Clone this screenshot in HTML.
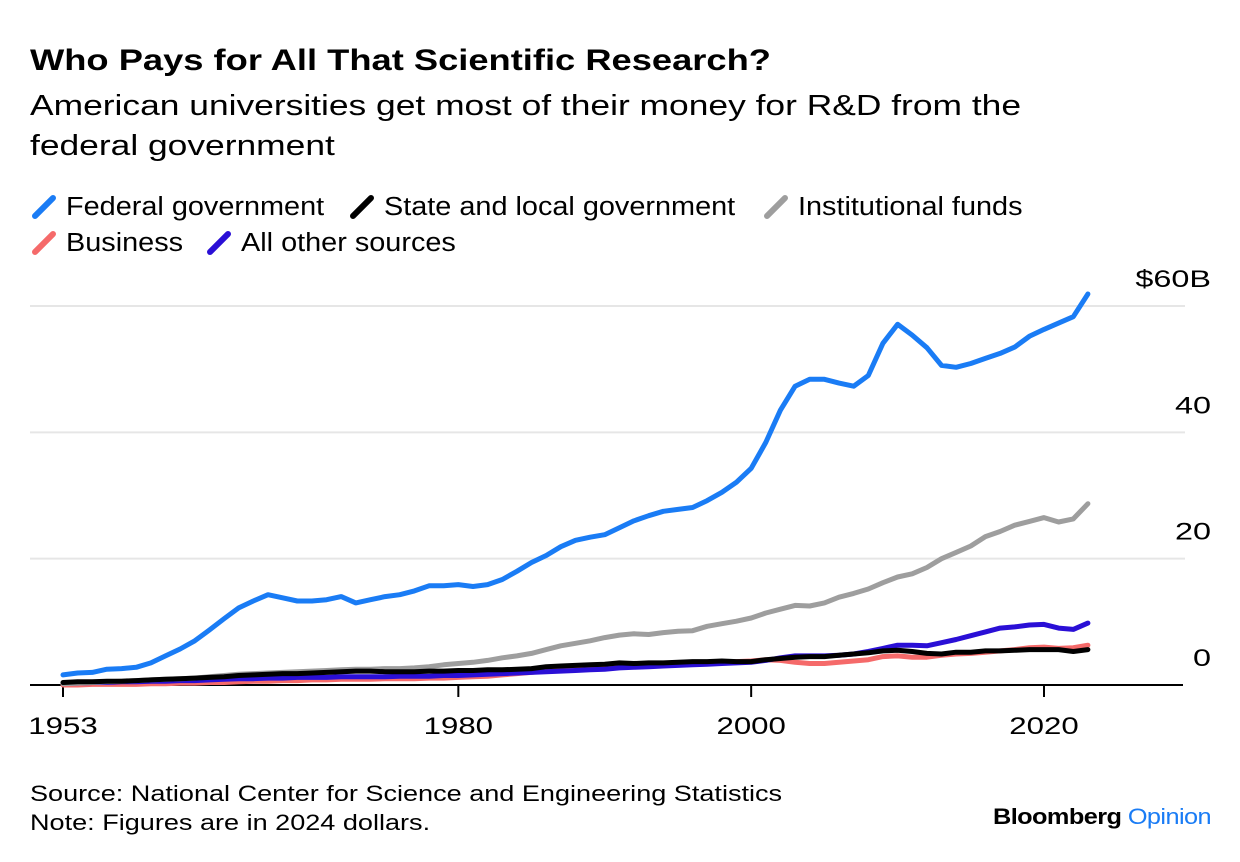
<!DOCTYPE html>
<html><head><meta charset="utf-8"><style>
body{margin:0;background:#fff;font-family:"Liberation Sans",sans-serif;}
#w{position:relative;width:1240px;height:862px;overflow:hidden}
.t{position:absolute;color:#000;white-space:nowrap;transform-origin:0 0}
</style></head><body><div id="w">
<div class="t" style="left:30px;top:44px;font-size:30px;font-weight:bold;transform:scaleX(1.21)">Who Pays for All That Scientific Research?</div>
<div class="t" style="left:30px;top:86px;font-size:29px;line-height:40px;transform:scaleX(1.22)">American universities get most of their money for R&amp;D from the<br>federal government</div>
<svg width="1240" height="862" style="position:absolute;left:0;top:0" id="svg"></svg>
<div class="t" style="left:30px;top:779px;font-size:22px;line-height:29px;transform:scaleX(1.23)">Source: National Center for Science and Engineering Statistics<br>Note: Figures are in 2024 dollars.</div>
<div class="t" style="left:993px;top:804px;font-size:22px;font-weight:bold;letter-spacing:-0.5px;transform:scaleX(1.15)">Bloomberg <span style="color:#1a7cf5;font-weight:normal">Opinion</span></div>
</div>
<script>
const years=[];for(let y=1953;y<=2023;y++)years.push(y);
const federal=[1.6,1.9,2.0,2.5,2.6,2.8,3.5,4.6,5.7,7.0,8.7,10.5,12.2,13.3,14.3,13.8,13.3,13.3,13.5,14.0,13.0,13.5,14.0,14.3,14.9,15.7,15.7,15.9,15.6,15.9,16.7,18.0,19.4,20.5,21.9,22.9,23.4,23.8,24.9,26.0,26.8,27.5,27.8,28.1,29.2,30.5,32.1,34.3,38.4,43.5,47.3,48.4,48.4,47.8,47.3,49.0,54.1,57.1,55.4,53.4,50.6,50.3,50.9,51.7,52.5,53.5,55.2,56.3,57.3,58.3,61.9];
const institutional=[0.2,0.3,0.4,0.5,0.6,0.7,0.8,0.9,1.0,1.1,1.3,1.5,1.7,1.8,1.9,2.0,2.1,2.2,2.3,2.4,2.5,2.5,2.6,2.6,2.7,2.9,3.2,3.4,3.6,3.9,4.3,4.6,5.0,5.6,6.2,6.6,7.0,7.5,7.9,8.1,8.0,8.3,8.5,8.6,9.3,9.7,10.1,10.6,11.4,12.0,12.6,12.5,13.0,13.9,14.5,15.2,16.2,17.1,17.6,18.6,20.0,21.0,22.0,23.5,24.3,25.3,25.9,26.5,25.8,26.3,28.7];
const stateLocal=[0.4,0.5,0.5,0.6,0.6,0.7,0.8,0.9,1.0,1.1,1.2,1.3,1.5,1.6,1.7,1.8,1.8,1.9,2.0,2.1,2.2,2.2,2.1,2.1,2.1,2.2,2.2,2.3,2.3,2.4,2.4,2.5,2.6,2.9,3.0,3.1,3.2,3.3,3.5,3.4,3.5,3.5,3.6,3.7,3.7,3.8,3.7,3.7,4.0,4.2,4.4,4.5,4.5,4.7,4.9,5.1,5.4,5.5,5.3,5.0,4.9,5.2,5.2,5.4,5.4,5.5,5.6,5.6,5.6,5.3,5.6];
const business=[0.0,0.0,0.1,0.1,0.1,0.1,0.2,0.2,0.3,0.3,0.4,0.4,0.5,0.6,0.6,0.7,0.7,0.8,0.8,0.9,0.9,0.9,1.0,1.0,1.0,1.1,1.1,1.2,1.3,1.4,1.6,1.8,2.0,2.3,2.5,2.7,2.9,3.0,3.1,3.2,3.3,3.3,3.3,3.4,3.5,3.6,3.7,3.8,4.0,3.9,3.6,3.4,3.4,3.6,3.8,4.0,4.5,4.6,4.4,4.4,4.7,4.9,5.0,5.2,5.4,5.6,5.9,6.0,5.8,5.9,6.3];
const otherSrc=[0.3,0.3,0.4,0.4,0.5,0.5,0.6,0.6,0.7,0.7,0.8,0.9,1.0,1.0,1.1,1.1,1.2,1.2,1.2,1.3,1.3,1.3,1.3,1.4,1.4,1.4,1.5,1.5,1.6,1.7,1.8,1.9,2.0,2.1,2.2,2.3,2.4,2.5,2.7,2.8,2.9,3.0,3.1,3.2,3.3,3.4,3.5,3.6,3.9,4.3,4.6,4.6,4.6,4.7,4.9,5.3,5.8,6.3,6.3,6.2,6.7,7.2,7.8,8.4,9.0,9.2,9.5,9.6,9.0,8.8,9.8];
const yTicks=[0,20,40,60];
const yTickLabels=["0","20","40","$60B"];
const xTicks=[1953,1980,2000,2020];
const seriesNames=["Federal government","State and local government","Institutional funds","Business","All other sources"];
const S='http://www.w3.org/2000/svg',svg=document.getElementById('svg');
const X=y=>63+(y-1953)*(1044-63)/67, Y=v=>685-v*(685-306)/60;
function el(t,a,p){const e=document.createElementNS(S,t);for(const k in a)e.setAttribute(k,a[k]);(p||svg).appendChild(e);return e;}
yTicks.forEach((v,i)=>{
 if(v>0){const g=el('line',{x1:30,x2:1185,y1:Y(v),y2:Y(v),stroke:'#e6e6e6','stroke-width':2});
 
 }
 const t=el('text',{x:0,y:0,transform:'translate(1211,'+(Y(v)-19)+') scale(1.35,1)','text-anchor':'end','font-size':24,'font-family':'Liberation Sans'});t.textContent=yTickLabels[i];
 
 
});
const b=el('line',{x1:30,x2:1183,y1:685,y2:685,stroke:'#000','stroke-width':2});


xTicks.forEach(yr=>{
 const l=el('line',{x1:X(yr),x2:X(yr),y1:685,y2:697,stroke:'#000','stroke-width':2});
 
 
 const t=el('text',{x:0,y:0,transform:'translate('+X(yr)+',734) scale(1.3,1)','text-anchor':'middle','font-size':24,'font-family':'Liberation Sans'});t.textContent=yr;
 
 
});
const series=[[business,'#f56a6a','business-line'],[otherSrc,'#2a0fd6','all-other-sources-line'],[institutional,'#9e9e9e','institutional-funds-line'],[stateLocal,'#000','state-local-line'],[federal,'#1a7cf5','federal-line']];
series.forEach(([d,c,n])=>{
 const p=el('path',{d:d.map((v,i)=>(i?'L':'M')+X(years[i]).toFixed(1)+','+Y(v).toFixed(1)).join(''),fill:'none',stroke:c,'stroke-width':5,'stroke-linejoin':'round','stroke-linecap':'round'});
 
 
});
const leg=[[32,206,'#1a7cf5'],[350,206,'#000'],[764,206,'#9e9e9e'],[32,242,'#f56a6a'],[207,242,'#2a0fd6']];
leg.forEach(([x,y,c],i)=>{
 const g=el('g',{});
 
 
 el('line',{x1:x+3,y1:y+10,x2:x+21,y2:y-8,stroke:c,'stroke-width':6,'stroke-linecap':'round'},g);
 const t=el('text',{x:0,y:0,transform:'translate('+(x+34)+','+(y+9)+') scale(1.11,1)','font-size':26,'font-family':'Liberation Sans'},g);t.textContent=seriesNames[i];
});
</script></body></html>
